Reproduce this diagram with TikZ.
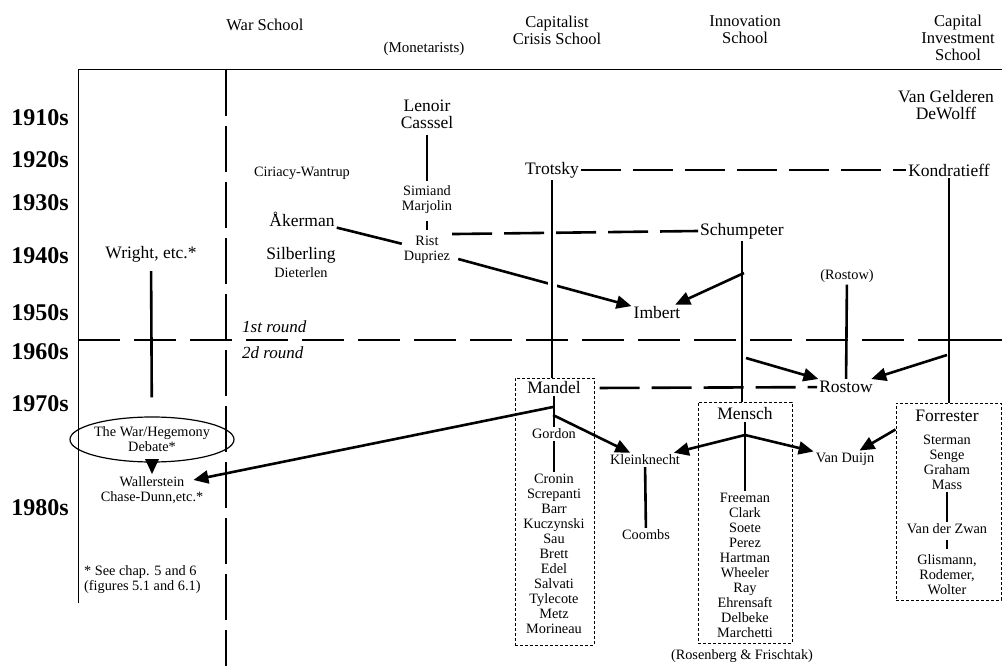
\documentclass[tikz,border=0pt]{standalone}
\usepackage{fontspec}
\setmainfont{Liberation Serif}
\usetikzlibrary{arrows.meta,shapes.geometric}

\begin{document}
\begin{tikzpicture}[x=1pt, y=-1pt,
  every node/.style = {inner sep=2pt, align=center},
  person/.style = {font=\fontsize{17.5}{17}\selectfont},
  lesser/.style = {font=\fontsize{14.3}{15}\selectfont},
  header/.style = {font=\fontsize{16.5}{17}\selectfont},
  decade/.style = {font=\fontsize{24}{24}\selectfont\bfseries, anchor=east},
  roundlabel/.style = {font=\fontsize{17}{17}\selectfont\itshape, anchor=west},
  tie/.style = {line width=2.6pt},
  lead/.style = {tie, -{Triangle[length=15pt,width=13pt]}},
  linkdash/.style = {tie, dash pattern=on 40pt off 12pt},
  fence/.style = {line width=1.6pt, dash pattern=on 46pt off 10pt},
  rounddash/.style = {line width=1.3pt, dash pattern=on 42pt off 14pt},
  group/.style = {draw, line width=1pt, dash pattern=on 3pt off 2pt, inner sep=0pt},
  gap/.style = {preaction={draw, white, line width=9pt}}]
  \useasboundingbox (0,0) rectangle (1002,666);

  \node[header] (war) at (265,25) {War School};
  \node[lesser, font=\fontsize{15}{15}\selectfont] (monet) at (424,49) {(Monetarists)};
  \node[header] (crisis) at (557,30) {Capitalist\\Crisis School};
  \node[header] (innov) at (745,30) {Innovation\\School};
  \node[header] (invest) at (958,38) {Capital\\Investment\\School};

  \node[decade] (d1910) at (71,118) {1910s};
  \node[decade] (d1920) at (71,160) {1920s};
  \node[decade] (d1930) at (71,203) {1930s};
  \node[decade] (d1940) at (71,256) {1940s};
  \node[decade] (d1950) at (71,313) {1950s};
  \node[decade] (d1960) at (71,352) {1960s};
  \node[decade] (d1970) at (71,404) {1970s};
  \node[decade] (d1980) at (71,508) {1980s};

  \node[roundlabel] (first) at (240,327) {1st round};
  \node[roundlabel] (second) at (240,353) {2d round};

  \node[person] (lenoir) at (427,114) {Lenoir\\Casssel};
  \node[lesser] (simiand) at (427,200) {Simiand\\Marjolin};
  \node[lesser] (rist) at (427,250) {Rist\\Dupriez};
  \node[lesser] (ciriacy) at (302,173) {Ciriacy-Wantrup};
  \node[person] (aker) at (302,219) {Åkerman};
  \node[person] (silber) at (301,255) {Silberling};
  \node[lesser] (dieter) at (301,273) {Dieterlen};

  \node[person] (wright) at (151,254) {Wright, etc.*};
  \node[lesser, draw, ellipse, line width=1.2pt, minimum width=141pt,
    minimum height=45pt, inner sep=0pt] (debate) at (152,439.5)
    {The War/Hegemony\\Debate*};
  \node[lesser] (wall) at (152,490) {Wallerstein\\Chase-Dunn,etc.*};
  \node[lesser, align=left, anchor=west] (note) at (82,580)
    {* See chap. 5 and 6\\(figures 5.1 and 6.1)};

  \node[person] (trotsky) at (552,170) {Trotsky};
  \node[person] (kond) at (949,170) {Kondratieff};
  \node[person] (gelderen) at (946,105) {Van Gelderen\\DeWolff};
  \node[person] (schump) at (742,231) {Schumpeter};
  \node[person] (imbert) at (657,313) {Imbert};
  \node[lesser] (rostowp) at (847,276) {(Rostow)};
  \node[person] (rostow) at (846,387) {Rostow};

  \node[group, minimum width=79pt, minimum height=267pt] (mbox) at (554.5,511.5) {};
  \node[person] (mandel) at (554,388) {Mandel};
  \node[lesser] (gordon) at (554,434) {Gordon};
  \node[lesser] (mlist) at (554,554) {Cronin\\Screpanti\\Barr\\Kuczynski\\Sau\\Brett\\Edel\\Salvati\\Tylecote\\Metz\\Morineau};
  \node[lesser] (kleink) at (645,460) {Kleinknecht};
  \node[lesser] (coombs) at (646,535) {Coombs};

  \node[group, minimum width=94pt, minimum height=241pt] (nbox) at (745,522.5) {};
  \node[person] (mensch) at (745,414) {Mensch};
  \node[lesser] (nlist) at (745,565.5) {Freeman\\Clark\\Soete\\Perez\\Hartman\\Wheeler\\Ray\\Ehrensaft\\Delbeke\\Marchetti};
  \node[lesser] (rosen) at (742,656) {(Rosenberg \& Frischtak)};
  \node[lesser] (vanduijn) at (845,459) {Van Duijn};

  \node[group, minimum width=105pt, minimum height=197pt] (fbox) at (948.5,501.5) {};
  \node[person] (forr) at (947,416) {Forrester};
  \node[lesser] (flist) at (947,462) {Sterman\\Senge\\Graham\\Mass};
  \node[lesser] (zwan) at (947,529) {Van der Zwan};
  \node[lesser] (glis) at (947,575) {Glismann,\\Rodemer,\\Wolter};

  \coordinate (s1) at (744,273);
  \coordinate (s2) at (746,358);
  \coordinate (k1) at (947,355);
  \coordinate (m1) at (553,407);
  \coordinate (m2) at (553,415);
  \coordinate (n1) at (745,435);

  \draw[line width=1pt] (78,603) -- (78,70) -- (1002,70);
  \draw[fence] (226,70) -- (226,666);

  \draw[lead] ([xshift=6pt,yshift=-9pt]rist.east) -- (imbert);
  \draw[tie, gap] (trotsky) -- (trotsky |- mbox.north);

  \draw[rounddash] (78,340) -- (947,340);
  \draw[line width=1.3pt] (947,340) -- (1002,340);

  \draw[tie, shorten <=4pt, shorten >=3pt] (lenoir) -- (simiand);
  \draw[tie, shorten <=5pt, shorten >=4pt] (simiand) -- (rist);
  \draw[tie] (aker) -- (rist);
  \draw[linkdash] (rist.north east) -- (schump.west);
  \draw[linkdash] (trotsky) -- (kond);
  \draw[tie] (schump) -- (schump |- nbox.north);
  \draw[tie] (kond) -- (kond |- fbox.north);
  \draw[lead] (s1) -- (imbert);
  \draw[lead] (s2) -- (rostow);
  \draw[lead] (k1) -- (rostow);
  \draw[tie] (rostowp) -- (rostow);
  \draw[linkdash, shorten <=5pt] (mbox.east |- mandel) -- (rostow);

  \draw[tie, shorten <=7pt, shorten >=19pt] (wright) -- (debate);
  \draw[lead] (debate) -- (wall);
  \draw[lead] (m1) -- ([xshift=-12pt,yshift=10pt]wall.east);

  \draw[tie] (mandel) -- (gordon);
  \draw[tie] (gordon) -- (mlist);
  \draw[lead] (m2) -- (kleink);
  \draw[tie] (kleink) -- (coombs);

  \draw[tie] (mensch) -- (nlist);
  \draw[lead] (n1) -- (kleink);
  \draw[lead] (n1) -- (vanduijn);

  \draw[lead] ([yshift=-27pt]fbox.north west) -- (vanduijn);
  \draw[tie] (flist) -- (zwan);
  \draw[tie, shorten <=4pt, shorten >=4pt] (zwan) -- (glis);
\end{tikzpicture}
\end{document}
